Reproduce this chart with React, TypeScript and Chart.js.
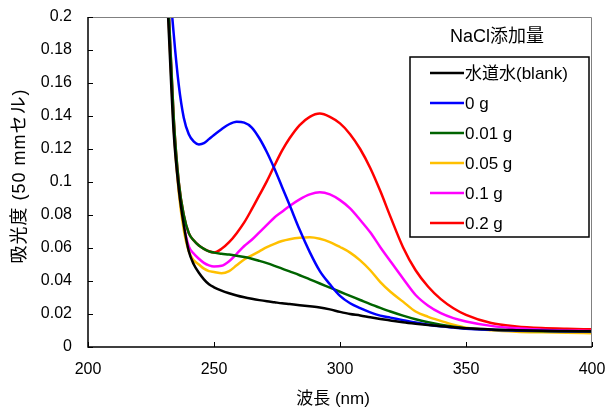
import React, { useEffect, useRef } from "react";
import { Chart, registerables } from "chart.js";

Chart.register(...registerables);

const wavelengths = [225, 230, 232, 234, 236, 238, 240, 242, 244, 246, 248, 250, 253, 256, 259, 262, 265, 268, 271, 274, 277, 280, 284, 288, 292, 296, 300, 304, 308, 312, 316, 320, 325, 330, 335, 340, 345, 350, 360, 370, 380, 390, 400];

const blank = [0.40, 0.26, 0.193, 0.13, 0.096, 0.074, 0.058, 0.050, 0.045, 0.041, 0.038, 0.0362, 0.0342, 0.0326, 0.0312, 0.0301, 0.0292, 0.0284, 0.0277, 0.0271, 0.0265, 0.026, 0.0253, 0.0247, 0.024, 0.0228, 0.0213, 0.0200, 0.0191, 0.0180, 0.0170, 0.0161, 0.0150, 0.0141, 0.0133, 0.0126, 0.0119, 0.0113, 0.0106, 0.0102, 0.0099, 0.0097, 0.0095];
const g0 = [0.50, 0.30, 0.23, 0.19, 0.159, 0.139, 0.129, 0.1245, 0.1228, 0.1235, 0.126, 0.1285, 0.132, 0.135, 0.1365, 0.136, 0.133, 0.1265, 0.118, 0.108, 0.097, 0.086, 0.071, 0.0575, 0.046, 0.038, 0.031, 0.0265, 0.0235, 0.021, 0.019, 0.0178, 0.0163, 0.0148, 0.0135, 0.0125, 0.0118, 0.0111, 0.0104, 0.0100, 0.0098, 0.0096, 0.0095];
const g001 = [0.45, 0.27, 0.205, 0.139, 0.100, 0.080, 0.069, 0.0645, 0.0615, 0.0595, 0.058, 0.0572, 0.0565, 0.056, 0.0553, 0.0545, 0.0535, 0.0522, 0.0508, 0.0492, 0.0475, 0.0458, 0.0435, 0.041, 0.0385, 0.036, 0.0335, 0.031, 0.0285, 0.026, 0.0237, 0.0215, 0.019, 0.0168, 0.015, 0.0135, 0.0123, 0.0114, 0.0104, 0.0099, 0.0096, 0.0094, 0.0093];
const g005 = [0.45, 0.27, 0.198, 0.133, 0.094, 0.071, 0.058, 0.0525, 0.050, 0.0475, 0.046, 0.0455, 0.0447, 0.046, 0.0495, 0.053, 0.0555, 0.058, 0.0605, 0.0625, 0.0642, 0.0653, 0.0662, 0.0665, 0.0656, 0.0636, 0.0606, 0.0572, 0.0525, 0.0465, 0.0393, 0.0335, 0.0275, 0.0215, 0.0183, 0.0158, 0.0135, 0.0117, 0.0101, 0.0093, 0.0089, 0.0086, 0.0084];
const g01 = [0.45, 0.27, 0.20, 0.135, 0.096, 0.074, 0.061, 0.0565, 0.0535, 0.051, 0.0495, 0.0488, 0.0492, 0.052, 0.0565, 0.0612, 0.065, 0.0695, 0.074, 0.0785, 0.082, 0.0855, 0.0895, 0.0925, 0.0938, 0.0925, 0.089, 0.084, 0.077, 0.0695, 0.0605, 0.052, 0.0415, 0.0315, 0.025, 0.0205, 0.0175, 0.0155, 0.0128, 0.0113, 0.0105, 0.0100, 0.0097];
const g02 = [0.45, 0.27, 0.205, 0.139, 0.100, 0.080, 0.069, 0.0645, 0.0615, 0.0595, 0.058, 0.0573, 0.0595, 0.0635, 0.069, 0.0755, 0.0835, 0.092, 0.1005, 0.110, 0.119, 0.1265, 0.1345, 0.1395, 0.1415, 0.1395, 0.1355, 0.129, 0.120, 0.1085, 0.0945, 0.079, 0.0605, 0.0465, 0.0365, 0.029, 0.0235, 0.0195, 0.0145, 0.0125, 0.0115, 0.0110, 0.0107];

const seriesLabels = ["水道水(blank)", "0 g", "0.01 g", "0.05 g", "0.1 g", "0.2 g"];
const seriesValues = [blank, g0, g001, g005, g01, g02];
const seriesColors = ["#000000", "#0000FF", "#006400", "#FFC000", "#FF00FF", "#FF0000"];

const legendTitle = "NaCl添加量";
const xTitle = "波長 (nm)";
const yTitle = "吸光度 (50 mmセル)";

const FONT = "'Liberation Sans', Arial, 'Noto Sans CJK JP', sans-serif";

const framePlugin = {
  id: "framePlugin",
  afterDraw(chart: any) {
    const ctx = chart.ctx;
    const a = chart.chartArea;
    const xs = chart.scales.x;
    const ys = chart.scales.y;
    ctx.save();
    ctx.strokeStyle = "#808080";
    ctx.lineWidth = 1;
    ctx.beginPath();
    ctx.moveTo(a.left, a.top + 0.5);
    ctx.lineTo(a.right - 0.5, a.top + 0.5);
    ctx.lineTo(a.right - 0.5, a.bottom);
    ctx.stroke();
    ctx.strokeStyle = "#000";
    ctx.lineWidth = 1.5;
    ctx.beginPath();
    ctx.moveTo(a.left, a.top);
    ctx.lineTo(a.left, a.bottom);
    ctx.lineTo(a.right, a.bottom);
    ctx.stroke();
    ctx.lineWidth = 1;
    ctx.beginPath();
    xs.ticks.forEach((t: any) => {
      const px = Math.round(xs.getPixelForValue(t.value)) + 0.5;
      ctx.moveTo(px, a.bottom);
      ctx.lineTo(px, a.bottom - 5);
    });
    ys.ticks.forEach((t: any) => {
      const py = Math.round(ys.getPixelForValue(t.value)) + 0.5;
      ctx.moveTo(a.left, py);
      ctx.lineTo(a.left + 5, py);
    });
    ctx.stroke();
    ctx.fillStyle = "#000";
    ctx.textAlign = "center";
    ctx.textBaseline = "middle";
    ctx.font = `17px ${FONT}`;
    ctx.fillText(xTitle, 333, 399);
    ctx.save();
    ctx.translate(20, 176);
    ctx.rotate(-Math.PI / 2);
    ctx.font = `18px ${FONT}`;
    (ctx as any).letterSpacing = "1px";
    ctx.fillText(yTitle, 0, 0);
    ctx.restore();
    ctx.font = `18px ${FONT}`;
    ctx.fillText(legendTitle, 497, 37);
    const bx = 410, by = 57, bw = 179, bh = 180;
    ctx.fillStyle = "#fff";
    ctx.fillRect(bx, by, bw, bh);
    ctx.strokeStyle = "#000";
    ctx.lineWidth = 1.5;
    ctx.strokeRect(bx, by, bw, bh);
    ctx.textAlign = "left";
    ctx.font = `17px ${FONT}`;
    chart.data.datasets.forEach((ds: any, i: number) => {
      const yy = 73 + i * 30;
      ctx.strokeStyle = ds.borderColor;
      ctx.lineWidth = 2.5;
      ctx.beginPath();
      ctx.moveTo(430, yy);
      ctx.lineTo(464, yy);
      ctx.stroke();
      ctx.fillStyle = "#000";
      ctx.fillText(ds.label, 465, yy + 1);
    });
    ctx.restore();
  },
};

export default function App() {
  const ref = useRef<HTMLCanvasElement>(null);
  useEffect(() => {
    if (!ref.current) return;
    const chart = new Chart(ref.current, {
      type: "line",
      data: {
        datasets: seriesValues.map((vals, i) => ({
          label: seriesLabels[i],
          data: wavelengths.map((w, j) => ({ x: w, y: vals[j] })),
          borderColor: seriesColors[i],
          backgroundColor: seriesColors[i],
          borderWidth: 2.5,
          pointRadius: 0,
          cubicInterpolationMode: "monotone" as const,
          clip: 0,
        })),
      },
      options: {
        animation: false,
        responsive: false,
        events: [],
        layout: { padding: { left: 0, top: 17, right: 15, bottom: 0 } },
        plugins: { legend: { display: false }, tooltip: { enabled: false } },
        scales: {
          x: {
            type: "linear",
            min: 200,
            max: 400,
            grid: { display: false, drawTicks: false },
            border: { display: false },
            ticks: { stepSize: 50, color: "#000", font: { family: FONT, size: 16 }, padding: 13, maxRotation: 0 },
            afterFit: (s: any) => { s.height = 65; s.paddingLeft = 0; s.paddingRight = 0; },
          },
          y: {
            min: 0,
            max: 0.2,
            grid: { display: false, drawTicks: false },
            border: { display: false },
            ticks: {
              stepSize: 0.02,
              color: "#000",
              font: { family: FONT, size: 16 },
              padding: 16,
              callback: (v: any) => String(+Number(v).toFixed(2)),
            },
            afterFit: (s: any) => { s.width = 88; s.paddingTop = 0; s.paddingBottom = 0; },
          },
        },
      },
      plugins: [framePlugin],
    });
    return () => chart.destroy();
  }, []);
  return (
    <div style={{ position: "absolute", left: 0, top: 0, width: 607, height: 412, background: "#fff" }}>
      <canvas ref={ref} width={607} height={412} style={{ width: 607, height: 412 }} />
    </div>
  );
}
